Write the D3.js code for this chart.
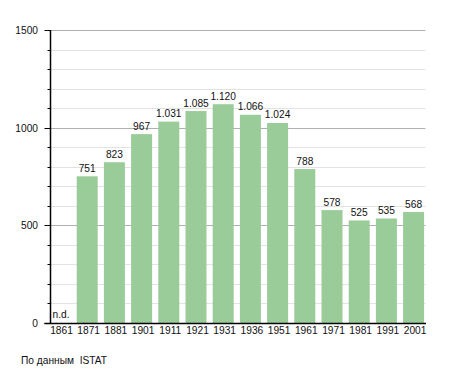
<!DOCTYPE html>
<html><head><meta charset="utf-8">
<script src="https://cdn.jsdelivr.net/npm/d3@7"></script>
<style>
html,body{margin:0;padding:0;background:#fff;}
text{font-family:"Liberation Sans",Arial,sans-serif;font-size:10.2px;fill:#111;}
</style></head>
<body>
<svg id="c" width="455" height="373"></svg>
<script>
const years = ["1861","1871","1881","1901","1911","1921","1931","1936","1951","1961","1971","1981","1991","2001"];
const population = [null,751,823,967,1031,1085,1120,1066,1024,788,578,525,535,568];
const majorTicks = [0,500,1000,1500];
const minorTicks = [100,200,300,400,600,700,800,900,1100,1200,1300,1400];
const missingLabel = "n.d.";
const sourceText = "По данным  ISTAT";

const svg = d3.select("#c");
const x = d3.scaleBand().domain(years).range([49.5,424.1]).paddingInner(0.228).paddingOuter(0).align(0);
const y = d3.scaleLinear().domain([0,1500]).range([323,30]);
const xRight = 425.5;
const axisX = 50.5;

// minor gridlines
svg.append("g").selectAll("line").data(minorTicks).join("line")
  .attr("x1",axisX).attr("x2",xRight)
  .attr("y1",d=>Math.round(y(d))+0.5).attr("y2",d=>Math.round(y(d))+0.5)
  .attr("stroke","#e2e2e2").attr("stroke-width",1);
// major gridlines
svg.append("g").selectAll("line").data(majorTicks.filter(d=>d>0)).join("line")
  .attr("x1",axisX).attr("x2",xRight)
  .attr("y1",d=>Math.round(y(d))+0.5).attr("y2",d=>Math.round(y(d))+0.5)
  .attr("stroke","#b0b0b0").attr("stroke-width",1);

// bars
const fmt = d3.formatLocale({decimal:",",thousands:".",grouping:[3],currency:["",""]}).format(",d");
const rows = years.map((yr,i)=>({yr,v:population[i]})).filter(d=>d.v!=null);
svg.append("g").selectAll("rect").data(rows).join("rect")
  .attr("x",d=>x(d.yr)).attr("width",x.bandwidth())
  .attr("y",d=>y(d.v)).attr("height",d=>y(0)-y(d.v))
  .attr("fill","#99cc99");

// value labels
svg.append("g").selectAll("text").data(rows).join("text")
  .attr("x",d=>x(d.yr)+x.bandwidth()/2).attr("y",d=>y(d.v)-4.5)
  .attr("text-anchor","middle").text(d=>fmt(d.v));

// n.d.
svg.append("text").attr("x",x("1861")+3).attr("y",y(0)-5).text(missingLabel);

// y axis
const ya = svg.append("g");
ya.append("line").attr("x1",axisX).attr("x2",axisX).attr("y1",y(1500)).attr("y2",y(0)+1).attr("stroke","#000").attr("stroke-width",1.5);
ya.selectAll("line.mi").data(minorTicks).join("line").attr("class","mi")
  .attr("x1",axisX-3).attr("x2",axisX)
  .attr("y1",d=>Math.round(y(d))+0.5).attr("y2",d=>Math.round(y(d))+0.5).attr("stroke","#000");
ya.selectAll("line.ma").data(majorTicks).join("line").attr("class","ma")
  .attr("x1",axisX-6).attr("x2",axisX)
  .attr("y1",d=>Math.round(y(d))+0.5).attr("y2",d=>Math.round(y(d))+0.5).attr("stroke","#000");
ya.selectAll("text").data(majorTicks).join("text")
  .attr("x",38).attr("y",d=>y(d)+4).attr("text-anchor","end").text(d=>d);

// x baseline
svg.append("line").attr("x1",axisX-6).attr("x2",xRight+0.5).attr("y1",y(0)+0.5).attr("y2",y(0)+0.5).attr("stroke","#000").attr("stroke-width",1.5);

// x labels
svg.append("g").selectAll("text").data(years).join("text")
  .attr("x",d=>x(d)+x.bandwidth()/2+1.5).attr("y",333.5)
  .attr("text-anchor","middle").text(d=>d);

// source
svg.append("text").attr("x",21).attr("y",364).style("white-space","pre").text(sourceText);
</script>
</body></html>
